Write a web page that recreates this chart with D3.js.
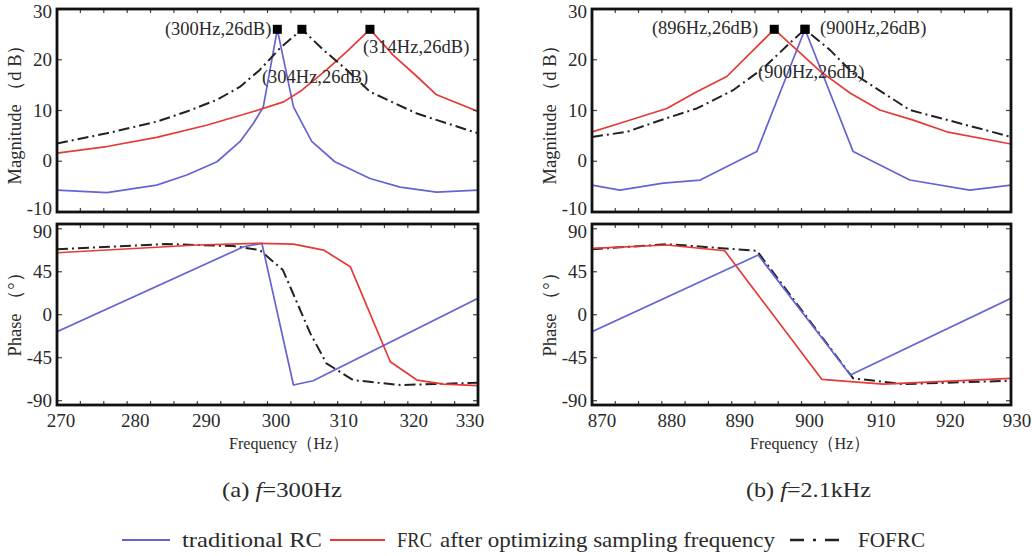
<!DOCTYPE html>
<html><head><meta charset="utf-8">
<script src="https://cdn.jsdelivr.net/npm/d3@7"></script>
<style>body{margin:0;background:#fff}svg{display:block}text{font-family:"Liberation Serif","Times New Roman",serif;fill:#2a2a2a}</style>
</head><body><svg id="c" width="1032" height="556"></svg>
<script>
// ---------- data ----------
// (a) f = 300 Hz : magnitude (dB)
const aMagRC   = [[270,-5.7],[277.1,-6.2],[284.2,-4.7],[288.5,-2.7],[292.8,-0.1],[296.1,3.9],[298.0,7.5],[299.4,10.7],[301.4,26],[303.7,10.7],[306.3,3.9],[309.6,-0.1],[314.6,-3.4],[318.9,-5.1],[324.1,-6.1],[330,-5.7]];
const aMagFRC  = [[270,1.6],[277.1,2.9],[284.2,4.7],[291.3,7.1],[298.0,9.8],[302.3,11.7],[304.9,14.0],[308.4,18.0],[311.3,21.6],[314.6,26],[317.9,20.9],[321.3,16.7],[324.1,13.1],[330,9.8]];
const aMagFO   = [[270,3.5],[277.1,5.5],[284.2,7.8],[288.5,9.8],[292.8,12.1],[296.1,14.7],[298.9,18.0],[301.8,22.3],[304.9,26],[308.0,21.9],[311.3,18.0],[314.6,13.7],[321.3,9.4],[330,5.5]];
// (a) phase (deg)
const aPhRC    = [[270,-17.8],[296.6,71.2],[299.2,74.8],[303.7,-73.6],[306.5,-69.1],[330,17.2]];
const aPhFRC   = [[270,64.9],[290,73.0],[298.9,74.8],[303.7,74.0],[308.0,67.7],[311.8,50.3],[317.5,-49.2],[321.3,-68.4],[325.1,-72.6],[330,-74.3]];
const aPhFO    = [[270,68.5],[285.6,74.0],[295.1,71.9],[298.9,67.7],[302.2,46.8],[306.1,-19.5],[308.4,-50.9],[312.2,-68.4],[318.9,-73.6],[330,-71.2]];
// (b) f = 2.1 kHz : magnitude (dB)
const bMagRC   = [[870,-4.7],[874,-5.7],[880.2,-4.3],[885.5,-3.7],[893.6,1.9],[900.5,26],[907.4,1.9],[915.5,-3.7],[924.1,-5.7],[930,-4.7]];
const bMagFRC  = [[870,5.8],[874,7.5],[880.7,10.4],[885,13.7],[889.3,16.7],[896.1,26],[902.7,17.7],[907,13.4],[911.2,10.1],[916,8.1],[920.8,5.8],[930,3.4]];
const bMagFO   = [[870,4.8],[875,5.8],[880.7,8.5],[885,10.4],[890.2,14.0],[894.5,18.3],[898.8,23.9],[900.5,26],[904.1,21.9],[907.4,17.3],[915.5,10.1],[930,4.8]];
// (b) phase (deg)
const bPhRC    = [[870,-17.8],[893.8,62.5],[907,-63.1],[930,17.2]];
const bPhFRC   = [[870,69.5],[880.7,73.0],[889,67.0],[902.9,-67.6],[911.7,-72.6],[930,-66.6]];
const bPhFO    = [[870,68.5],[880.7,73.9],[893.6,67.0],[907.4,-66.6],[914.6,-72.6],[930,-69.1]];
// ticks & labels
const aXTicks = [270,280,290,300,310,320,330];
const bXTicks = [870,880,890,900,910,920,930];
const magTicks = [-10,0,10,20,30];
const phTicks = [-90,-45,0,45,90];
const aNotes = [["(300Hz,26dB)",301.4,26],["(304Hz,26dB)",304.9,26],["(314Hz,26dB)",314.6,26]];
const bNotes = [["(896Hz,26dB)",896.1,26],["(900Hz,26dB)",900.5,26],["(900Hz,26dB)",900.5,26]];
const seriesNames = ["traditional RC","FRC","after optimizing sampling frequency","FOFRC"];
const captions = ["(a) ","f","=300Hz","(b) ","f","=2.1kHz"];

// ---------- drawing ----------
const svg = d3.select("#c");
const COL = {rc:"#6464d2", frc:"#e53a36", fo:"#222"};
const DASH = "11,4,2,4";

function frame(g, x0,x1,y0,y1){
  g.append("rect").attr("x",x0).attr("y",y0).attr("width",x1-x0).attr("height",y1-y0)
   .attr("fill","none").attr("stroke","#111").attr("stroke-width",2.8);
}
function panel(o){
  const x = d3.scaleLinear().domain(o.xd).range([o.x0,o.x1]);
  const ym = d3.scaleLinear().domain([-10,30]).range([212,9]);
  const yp = d3.scaleLinear().domain([-94.5,95]).range([405,224]);
  const g = svg.append("g");
  const id = "clip"+o.key;
  const cp = svg.append("clipPath").attr("id",id);
  cp.append("rect").attr("x",o.x0).attr("y",9).attr("width",o.x1-o.x0).attr("height",203);
  cp.append("rect").attr("x",o.x0).attr("y",224).attr("width",o.x1-o.x0).attr("height",181);
  const line = ys => d3.line().x(d=>x(d[0])).y(d=>ys(d[1]));
  const cg = g.append("g").attr("clip-path",`url(#${id})`);
  const draw = (data, ys, c, dash) => cg.append("path").datum(data).attr("d",line(ys))
      .attr("fill","none").attr("stroke",c).attr("stroke-width",dash?2:1.7)
      .attr("stroke-dasharray",dash||null).attr("stroke-linejoin","round");
  draw(o.magRC, ym, COL.rc); draw(o.magFRC, ym, COL.frc); draw(o.magFO, ym, COL.fo, DASH);
  draw(o.phFO, yp, COL.fo, DASH); draw(o.phRC, yp, COL.rc); draw(o.phFRC, yp, COL.frc);
  // minor x ticks
  const step = 10/3, minors = d3.range(o.xd[0], o.xd[1]+0.01, step);
  [[9,212],[224,405]].forEach(([t,b])=>{
    minors.forEach(v=>{
      g.append("line").attr("x1",x(v)).attr("x2",x(v)).attr("y1",t).attr("y2",t+4).attr("stroke","#444").attr("stroke-width",1.2);
      g.append("line").attr("x1",x(v)).attr("x2",x(v)).attr("y1",b).attr("y2",b-4).attr("stroke","#444").attr("stroke-width",1.2);
    });
  });
  // y ticks
  [[ym,magTicks],[yp,phTicks]].forEach(([ys,tk])=>{
    tk.forEach((v,i)=>{
      g.append("line").attr("x1",o.x0).attr("x2",o.x0+5).attr("y1",ys(v)).attr("y2",ys(v)).attr("stroke","#444").attr("stroke-width",1.2);
      g.append("line").attr("x1",o.x1).attr("x2",o.x1-5).attr("y1",ys(v)).attr("y2",ys(v)).attr("stroke","#444").attr("stroke-width",1.2);
      let dy = 6;
      if (ys===ym && i===0) dy = 3;
      if (i===tk.length-1) dy = 9;
      g.append("text").attr("x",o.x0-5).attr("y",ys(v)+dy).attr("text-anchor","end").attr("font-size",19).text(v);
    });
  });
  frame(g,o.x0,o.x1,9,212); frame(g,o.x0,o.x1,224,405);
  // x tick labels
  o.xt.forEach((v,i)=>{
    g.append("text").attr("x",x(v)+o.lshift[i]).attr("y",427)
      .attr("text-anchor","middle").attr("font-size",19).text(v);
  });
  g.append("text").attr("x",o.fx).attr("y",449).attr("text-anchor","middle").attr("font-size",17.5)
    .attr("textLength",120).attr("lengthAdjust","spacingAndGlyphs").text("Frequency（Hz）");
  g.append("text").attr("transform",`translate(${o.x0-36},110) rotate(-90)`).attr("text-anchor","middle").attr("font-size",18.5).text("Magnitude （d B）");
  g.append("text").attr("transform",`translate(${o.x0-36},310) rotate(-90)`).attr("text-anchor","middle").attr("font-size",18.5).text("Phase （°）");
  // markers + notes
  o.notes.forEach((n,i)=>{
    const px = x(n[1]), py = ym(n[2]);
    g.append("rect").attr("x",px-4.5).attr("y",py-4.5).attr("width",9).attr("height",9).attr("fill","#000");
    const off = o.noteOff[i];
    g.append("text").attr("x",px+off[0]).attr("y",py+off[1]).attr("text-anchor",off[2]).attr("font-size",18.5).text(n[0]);
  });
}
panel({key:"a",xd:[270,330],x0:57,x1:478,xt:aXTicks,lshift:[4,8,9,8.5,6,6,-8],fx:289,
  magRC:aMagRC,magFRC:aMagFRC,magFO:aMagFO,phRC:aPhRC,phFRC:aPhFRC,phFO:aPhFO,
  notes:aNotes,noteOff:[[-6,6,"end"],[-40,54,"start"],[-7,24,"start"]]});
panel({key:"b",xd:[870,930],x0:592,x1:1011,xt:bXTicks,lshift:[10,10,8,8,10,9,6],fx:810,
  magRC:bMagRC,magFRC:bMagFRC,magFO:bMagFO,phRC:bPhRC,phFRC:bPhFRC,phFO:bPhFO,
  notes:bNotes,noteOff:[[-16,5,"end"],[15,5,"start"],[-47,49,"start"]]});

// captions
function caption(x, w, parts){
  const t = svg.append("text").attr("x",x).attr("y",497).attr("font-size",22)
    .attr("textLength",w).attr("lengthAdjust","spacingAndGlyphs");
  t.append("tspan").text(parts[0]);
  t.append("tspan").attr("font-style","italic").text(parts[1]);
  t.append("tspan").text(parts[2]);
}
caption(222, 120, captions.slice(0,3));
caption(746, 125, captions.slice(3,6));

// legend
const lg = svg.append("g");
const ly = 540;
const ltext = (x, w, s) => lg.append("text").attr("x",x).attr("y",ly+7).attr("font-size",21)
   .attr("textLength",w).attr("lengthAdjust","spacingAndGlyphs").text(s);
lg.append("line").attr("x1",122).attr("x2",170).attr("y1",ly).attr("y2",ly).attr("stroke",COL.rc).attr("stroke-width",2.2);
ltext(182, 140, seriesNames[0]);
lg.append("line").attr("x1",330).attr("x2",385).attr("y1",ly).attr("y2",ly).attr("stroke",COL.frc).attr("stroke-width",2.2);
ltext(397, 35, seriesNames[1]);
ltext(440, 335, seriesNames[2]);
lg.append("line").attr("x1",790).attr("x2",846).attr("y1",ly).attr("y2",ly).attr("stroke",COL.fo).attr("stroke-width",2.4).attr("stroke-dasharray","14,9,3,9");
ltext(858, 67, seriesNames[3]);
</script></body></html>
